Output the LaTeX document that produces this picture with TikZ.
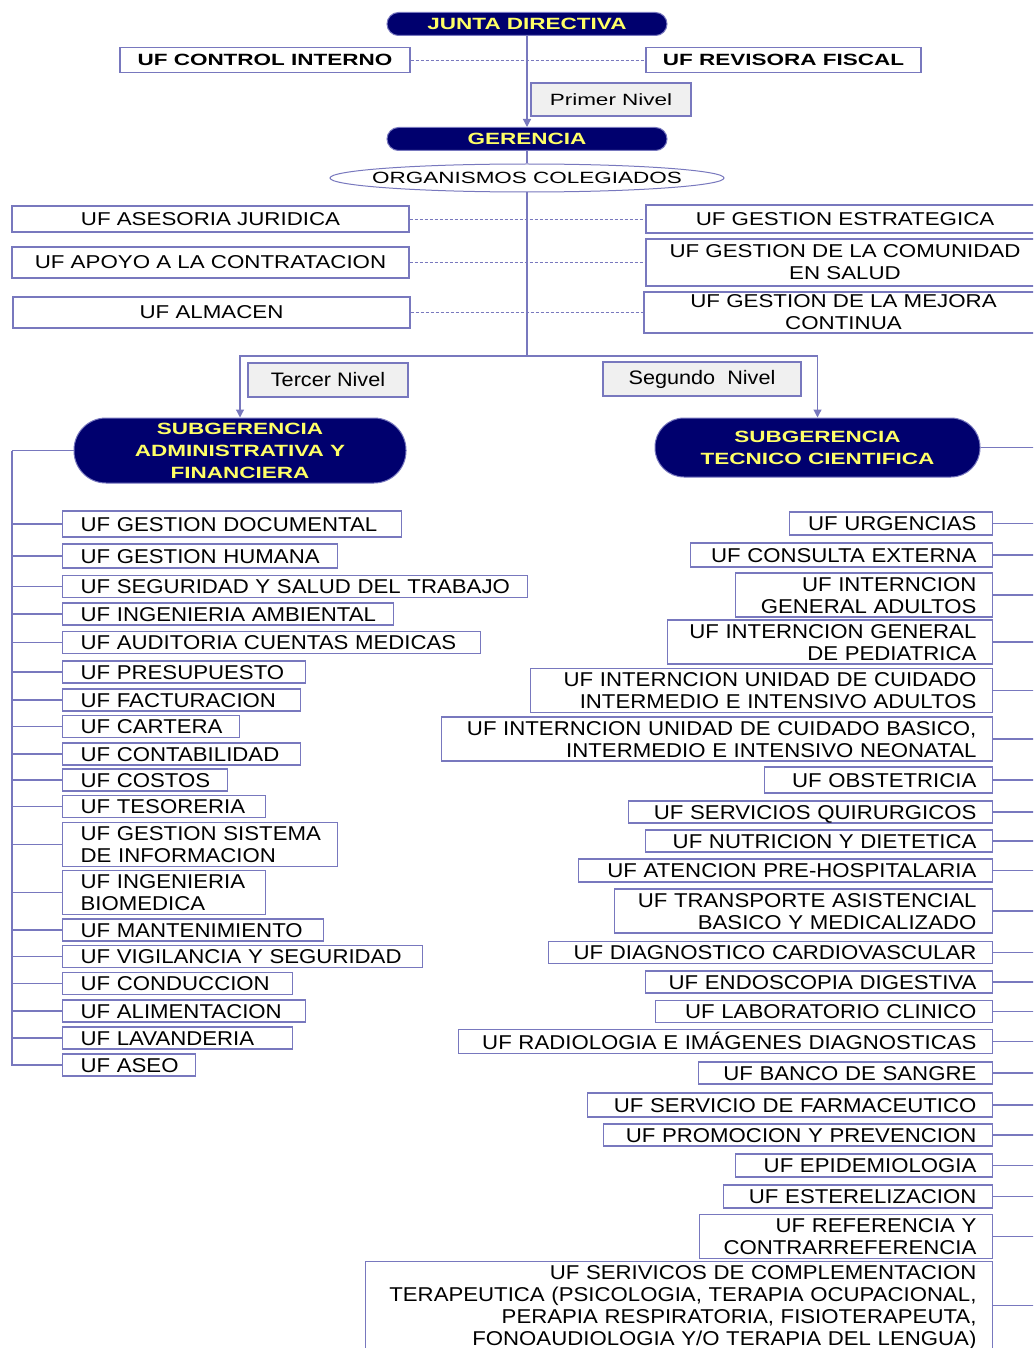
\documentclass[tikz,border=0pt]{standalone}
\usepackage{fontspec}
\setmainfont{Liberation Sans}[FakeStretch=1.11]
\newfontfamily\midft{Liberation Sans}[FakeStretch=1.2]
\newfontfamily\wideft{Liberation Sans}[FakeStretch=1.38]
\usetikzlibrary{arrows.meta,positioning,calc,shapes.geometric}
\definecolor{navy}{RGB}{0,0,110}
\definecolor{gold}{RGB}{255,255,102}
\definecolor{edge}{RGB}{120,120,190}
\definecolor{tag}{RGB}{240,240,240}
\newcommand\leftlines[1]{\raisebox{-3pt}[\height][\depth]{\begin{tabular}{@{}l@{}}#1\end{tabular}}}
\newcommand\rightlines[1]{\raisebox{-3pt}[\height][\depth]{\begin{tabular}{@{}r@{}}#1\end{tabular}}}

\begin{document}
\begin{tikzpicture}[
  x=1pt, y=-1pt,
  box/.style={draw=edge, line width=1.2pt, fill=white, inner sep=0pt},
  lbox/.style={box, anchor=west, align=left, inner xsep=18pt, font=\fontsize{20}{22}\selectfont},
  rbox/.style={box, anchor=east, align=right, inner xsep=16pt, font=\fontsize{20}{22}\selectfont},
  midbox/.style={box, align=center, font=\midft\fontsize{18.6}{22}\selectfont},
  head/.style={draw=edge, line width=1pt, fill=navy, text=gold, align=center, inner sep=0pt, font=\wideft\bfseries\fontsize{16.3}{22}\selectfont},
  tagbox/.style={box, fill=tag},
  link/.style={draw=edge, line width=1.2pt},
  arrow/.style={link, -{Triangle[length=8pt,width=8pt]}},
  dotline/.style={draw=edge, line width=0.9pt, dash pattern=on 3pt off 2pt}
]
\path[use as bounding box, fill=white] (0,0) rectangle (1033,1348);
\clip (0,0) rectangle (1033,1348);

% first level
\node[head, minimum width=280, minimum height=23, rounded corners=11.5] (junta) at (527,24) {JUNTA DIRECTIVA};
\node[box, font=\wideft\bfseries\fontsize{16.3}{22}\selectfont, minimum width=290, minimum height=25] (control) at (265,60) {UF CONTROL INTERNO};
\node[box, font=\wideft\bfseries\fontsize{16.3}{22}\selectfont, minimum width=275, minimum height=25] (revisora) at (783.5,60) {UF REVISORA FISCAL};
\node[tagbox, font=\wideft\fontsize{16.3}{22}\selectfont, minimum width=160, minimum height=33] (primer) at (611,99.5) {Primer Nivel};
\node[head, minimum width=280, minimum height=23, rounded corners=11.5] (gerencia) at (527,139) {GERENCIA};
\node[ellipse, draw=edge, line width=1pt, fill=white, inner xsep=-16pt, inner ysep=0pt, minimum width=394, minimum height=28, font=\wideft\fontsize{16.3}{22}\selectfont] (organismos) at (527,178) {ORGANISMOS COLEGIADOS};

\node[midbox, minimum width=397, minimum height=26] (juridica) at (210.5,219) {UF ASESORIA JURIDICA};
\node[midbox, minimum width=397, minimum height=31] (contratacion) at (210.5,262.5) {UF APOYO A LA CONTRATACION};
\node[midbox, minimum width=397, minimum height=31] (almacen) at (211.5,312.5) {UF ALMACEN};
\node[midbox, minimum width=398, minimum height=28] (estrategica) at (845,219) {UF GESTION ESTRATEGICA};
\node[midbox, minimum width=398, minimum height=47] (comunidad) at (845,262.5) {UF GESTION DE LA COMUNIDAD\\EN SALUD};
\node[midbox, minimum width=399, minimum height=41] (mejora) at (843.5,312.5) {UF GESTION DE LA MEJORA\\CONTINUA};

\coordinate (split) at (527,356);
\node[tagbox, font=\fontsize{19.5}{22}\selectfont, minimum width=160, minimum height=34] (tercer) at (328,380) {Tercer Nivel};
\node[tagbox, font=\fontsize{19.5}{22}\selectfont, minimum width=198, minimum height=34] (segundo) at (702,379) {Segundo\ \ Nivel};

\node[head, minimum width=332, minimum height=65, rounded corners=32] (subadmin) at (240,450.5) {SUBGERENCIA\\ADMINISTRATIVA Y\\FINANCIERA};
\node[head, minimum width=325, minimum height=59, rounded corners=29] (subtec) at (817.5,447.5) {SUBGERENCIA\\TECNICO CIENTIFICA};

\draw[arrow] (junta) -- (gerencia);
\draw[dotline] (control) -- (revisora);
\draw[link] (gerencia) -- (organismos);
\draw[link] (organismos) -- (split);
\draw[dotline] (juridica) -- (estrategica);
\draw[dotline] (contratacion) -- (comunidad);
\draw[dotline] (almacen) -- (mejora);
\draw[arrow] (split) -| (subadmin.north);
\draw[arrow] (split) -| (subtec.north);

% administrative units
\coordinate (admtrunk) at (12,450.5);
\draw[link] (subadmin) -- (admtrunk);
\foreach [count=\i, evaluate=\r as \tw using \r-98] \c/\r/\h/\t in {
  524/401/26/{UF GESTION DOCUMENTAL},
  556/337/24/{UF GESTION HUMANA},
  586.5/527/22/{UF SEGURIDAD Y SALUD DEL TRABAJO},
  614/393/21/{UF INGENIERIA AMBIENTAL},
  642.5/480/21/{UF AUDITORIA CUENTAS MEDICAS},
  672/305/22/{UF PRESUPUESTO},
  700/300/19/{UF FACTURACION},
  726.5/239/21/{UF CARTERA},
  754/300/20/{UF CONTABILIDAD},
  780/227/18/{UF COSTOS},
  806.5/265/21/{UF TESORERIA},
  844.5/337/41/{UF GESTION SISTEMA\\DE INFORMACION},
  892.5/265/41/{UF INGENIERIA\\BIOMEDICA},
  930/323/22/{UF MANTENIMIENTO},
  956.5/422/19/{UF VIGILANCIA Y SEGURIDAD},
  983.5/292/21/{UF CONDUCCION},
  1011/305/20/{UF ALIMENTACION},
  1038/292/18/{UF LAVANDERIA},
  1065/195/21/{UF ASEO}} {
  \node[lbox, text width=\tw, minimum height=\h] (adm\i) at (62,\c) {\leftlines{\t}};
  \draw[link] (admtrunk) |- (adm\i.west);
}

% technical units
\coordinate (tectrunk) at (1050,447.5);
\draw[link] (subtec) -- (tectrunk);
\foreach [count=\i, evaluate=\l as \tw using 961-\l] \c/\l/\h/\t in {
  523.5/790/23/{UF URGENCIAS},
  555/691/24/{UF CONSULTA EXTERNA},
  595/736/40/{UF INTERNCION\\GENERAL ADULTOS},
  642/668/40/{UF INTERNCION GENERAL\\DE PEDIATRICA},
  690.5/531/41/{UF INTERNCION UNIDAD DE CUIDADO\\INTERMEDIO E INTENSIVO ADULTOS},
  739/442/40/{UF INTERNCION UNIDAD DE CUIDADO BASICO,\\INTERMEDIO E INTENSIVO NEONATAL},
  780/765/26/{UF OBSTETRICIA},
  812/629/22/{UF SERVICIOS QUIRURGICOS},
  841/646/20/{UF NUTRICION Y DIETETICA},
  870.5/579/23/{UF ATENCION PRE-HOSPITALARIA},
  911/615/44/{UF TRANSPORTE ASISTENCIAL\\BASICO Y MEDICALIZADO},
  952.5/549/21/{UF DIAGNOSTICO CARDIOVASCULAR},
  982/646/22/{UF ENDOSCOPIA DIGESTIVA},
  1011.5/656/21/{UF LABORATORIO CLINICO},
  1041.5/459/23/{UF RADIOLOGIA E IMÁGENES DIAGNOSTICAS},
  1073/699/22/{UF BANCO DE SANGRE},
  1105/588/24/{UF SERVICIO DE FARMACEUTICO},
  1135/604/22/{UF PROMOCION Y PREVENCION},
  1165.5/736/23/{UF EPIDEMIOLOGIA},
  1196.5/724/23/{UF ESTERELIZACION},
  1236.5/700/41/{UF REFERENCIA Y\\CONTRARREFERENCIA},
  1305.5/366/88/{UF SERIVICOS DE COMPLEMENTACION\\TERAPEUTICA (PSICOLOGIA, TERAPIA OCUPACIONAL,\\PERAPIA RESPIRATORIA, FISIOTERAPEUTA,\\FONOAUDIOLOGIA Y/O TERAPIA DEL LENGUA)}} {
  \node[rbox, text width=\tw, minimum height=\h] (tec\i) at (993,\c) {\rightlines{\t}};
  \draw[link] (tectrunk) |- (tec\i.east);
}

\end{tikzpicture}
\end{document}
